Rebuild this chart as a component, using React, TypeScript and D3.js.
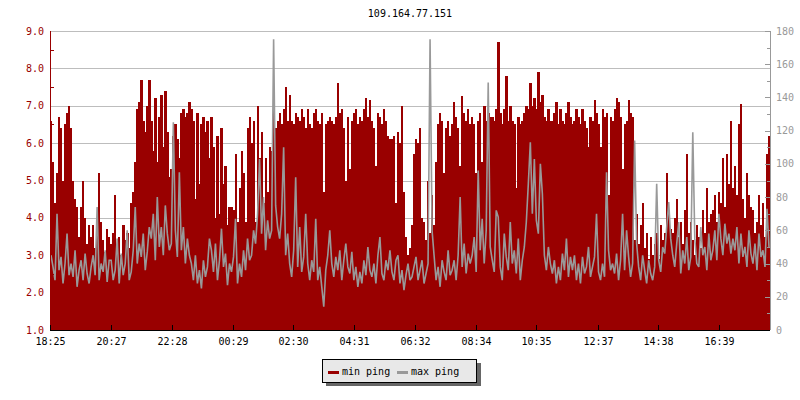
import React from "react";
import * as d3 from "d3";

const title = "109.164.77.151";
const tickLabels = ["18:25", "20:27", "22:28", "00:29", "02:30", "04:31", "06:32", "08:34", "10:35", "12:37", "14:38", "16:39"];
const leftTicks = [1, 2, 3, 4, 5, 6, 7, 8, 9];
const rightTicks = [0, 20, 40, 60, 80, 100, 120, 140, 160, 180];
const sampleMinutes = 4;

// min ping, one value every 4 minutes (left axis)
const minPing = [
  6.6, 5.5, 4.4, 5.2, 6.7, 6.4, 5.0, 6.5, 6.8, 7.0,
  6.4, 5.0, 4.5, 4.3, 3.5, 4.3, 5.0, 4.0, 3.3, 3.8,
  3.5, 3.8, 3.2, 3.6, 5.2, 3.9, 3.4, 3.1, 3.7, 3.5,
  3.3, 3.6, 4.6, 3.2, 3.5, 3.0, 3.8, 3.4, 3.6, 3.2,
  4.4, 4.7, 5.5, 6.9, 7.1, 7.7, 6.6, 6.3, 7.0, 7.7,
  6.6, 5.8, 7.2, 5.5, 6.7, 7.3, 5.9, 7.4, 6.3, 5.1,
  5.3, 6.2, 6.5, 6.1, 5.6, 6.8, 6.9, 6.7, 6.8, 7.1,
  6.9, 6.6, 4.5, 6.8, 4.9, 6.5, 6.7, 6.3, 6.6, 5.6,
  6.7, 5.9, 4.0, 6.2, 4.1, 6.4, 4.9, 5.4, 3.8, 4.3,
  4.3, 4.2, 5.7, 3.9, 4.8, 5.8, 5.2, 3.9, 6.4, 6.7,
  6.0, 6.6, 3.9, 7.0, 5.6, 6.3, 4.4, 5.6, 4.7, 5.9,
  5.8, 6.9, 6.4, 6.6, 6.8, 6.5, 6.9, 7.5, 6.6, 7.3,
  6.6, 6.5, 6.8, 6.7, 6.6, 6.9, 6.7, 6.4, 6.9, 6.5,
  6.4, 6.8, 6.9, 6.6, 6.5, 6.8, 4.7, 6.5, 6.6, 6.7,
  6.6, 6.5, 6.7, 7.6, 6.8, 6.9, 6.4, 5.0, 6.7, 5.3,
  6.6, 6.8, 6.9, 6.5, 6.7, 6.6, 6.9, 7.2, 6.7, 7.15,
  6.6, 6.4, 5.4, 6.8, 6.7, 6.5, 6.9, 6.6, 6.2, 6.1,
  6.1, 6.2, 4.4, 6.3, 6.0, 7.0, 4.7, 3.5, 3.0, 3.2,
  3.8, 5.7, 6.1, 6.0, 6.4, 4.0, 3.9, 3.4, 5.0, 3.6,
  4.6, 3.8, 5.5, 6.5, 6.8, 6.6, 5.2, 6.4, 6.6, 6.2,
  6.5, 7.1, 6.7, 6.4, 5.4, 7.25, 6.8, 6.6, 6.9, 6.5,
  6.7, 6.5, 5.2, 6.6, 6.8, 5.5, 7.0, 6.6, 6.8, 6.7,
  6.7, 6.6, 6.9, 8.7, 6.8, 6.5, 6.9, 7.8, 6.6, 7.0,
  6.6, 6.5, 4.8, 6.7, 6.5, 6.6, 6.8, 7.0, 6.9, 7.6,
  7.0, 7.2, 6.9, 7.9, 7.1, 7.3, 6.7, 6.6, 6.9, 6.6,
  6.6, 6.8, 7.1, 6.5, 6.9, 6.6, 6.5, 6.8, 7.1, 6.7,
  6.5, 6.6, 6.9, 6.7, 6.5, 6.9, 6.6, 6.4, 5.9, 6.7,
  6.6, 7.15, 6.8, 6.5, 5.9, 6.9, 6.7, 6.8, 4.6, 6.7,
  6.6, 6.9, 7.2, 7.1, 6.7, 5.3, 6.5, 6.6, 7.15, 6.8,
  6.7, 3.4, 4.1, 3.3, 3.8, 4.4, 3.2, 3.6, 2.9, 3.5,
  3.0, 3.3, 3.6, 2.9, 3.8, 3.4, 3.6, 5.2, 4.1, 3.7,
  3.6, 4.0, 4.5, 3.5, 3.9, 3.3, 4.2, 5.7, 3.6, 3.9,
  3.4, 3.0, 3.8, 3.5, 3.2, 4.2, 3.6, 4.8, 3.9, 4.1,
  4.2, 4.6, 3.9, 4.7, 4.4, 5.6, 4.3, 5.7, 4.9, 6.6,
  4.8, 5.4, 4.6, 6.5, 7.05, 4.5, 4.0, 5.2, 4.6, 4.3,
  4.2, 3.6, 3.9, 4.6, 3.8, 4.4, 3.5, 5.7, 6.2
];

// max ping, same samples (right axis)
const maxPing = [
  45, 38, 30, 70, 36, 44, 28, 40, 58, 33,
  40, 32, 48, 26, 36, 42, 30, 46, 34, 28,
  38, 45, 33, 74, 30, 40, 35, 48, 29, 42,
  42, 30, 36, 55, 28, 46, 33, 40, 60, 30,
  35, 48, 74, 40, 52, 44, 58, 36, 47, 62,
  55, 70, 42, 80, 50, 62, 45, 75, 58, 48,
  52, 125, 60, 44, 95, 48, 62, 40, 55, 45,
  40, 30, 45, 28, 36, 25, 42, 32, 38, 55,
  48, 35, 52, 30, 42, 61, 38, 46, 27, 40,
  35, 44, 67, 28, 40, 32, 48, 36, 55, 42,
  45, 60, 52, 70, 103, 58, 80, 48, 66, 55,
  60, 175, 75, 62, 55, 70, 110, 45, 58, 40,
  32, 48, 92, 38, 62, 35, 44, 70, 40, 30,
  42, 35, 67, 30, 38, 26, 14, 36, 45, 60,
  40, 32, 44, 36, 48, 30, 42, 52, 38, 34,
  47, 30, 38, 26, 35, 28, 42, 33, 50, 36,
  32, 40, 28, 45, 56, 34, 30, 42, 36, 48,
  35, 30, 42, 45, 28, 36, 24, 33, 40, 30,
  32, 38, 44, 30, 36, 42, 28, 34, 40, 175,
  60, 45, 30, 38, 26, 42, 35, 30, 48, 33,
  36, 42, 30, 45, 80, 38, 52, 34, 46, 40,
  45, 56, 35, 96, 48, 67, 40, 60, 149, 50,
  42, 35, 72, 68, 38, 30, 58, 44, 36, 65,
  40, 48, 34, 55, 30, 42, 50, 65, 88, 113,
  70, 103, 66, 58, 100, 82, 45, 36, 50, 40,
  34, 42, 28, 38, 30, 46, 36, 55, 32, 44,
  36, 45, 30, 40, 28, 44, 34, 38, 50, 32,
  38, 44, 70, 35, 30, 40, 32, 95, 48, 36,
  40, 34, 46, 30, 42, 70, 36, 60, 44, 32,
  40, 114, 52, 38, 30, 45, 36, 28, 42, 34,
  30, 38, 88, 42, 35, 50, 46, 62, 77, 55,
  45, 38, 52, 65, 34, 48, 40, 56, 36, 44,
  119, 55, 40, 38, 62, 45, 50, 36, 58, 42,
  48, 60, 42, 70, 55, 45, 64, 52, 58, 46,
  55, 48, 62, 40, 58, 44, 50, 38, 60, 46,
  40, 52, 36, 58, 44, 48, 38, 73, 50
];

const W = 800;
const H = 400;
const margin = { top: 31, right: 30, bottom: 70, left: 50 };
const x0 = margin.left;
const x1 = W - margin.right;
const y0 = H - margin.bottom;
const y1 = margin.top;

const RED = "#990000";
const GRAY = "#999999";
const GRID = "#bdbdbd";
const FONT = "DejaVu Sans Mono";

const start = new Date(2000, 0, 1, 18, 25);
const sampleTime = (i: number) => new Date(start.getTime() + i * sampleMinutes * 60000);

const labelTime = (s: string) => {
  const [h, m] = s.split(":").map(Number);
  const mins = (h * 60 + m - (18 * 60 + 25) + 1440) % 1440;
  return d3.timeMinute.offset(start, mins);
};

const App = () => {
  const x = d3
    .scaleTime()
    .domain([start, sampleTime(minPing.length)])
    .range([x0, x1]);
  const yLeft = d3.scaleLinear().domain([1, 9]).range([y0, y1]);
  const yRight = d3.scaleLinear().domain([0, 180]).range([y0, y1]);

  const maxLine = d3
    .line<number>()
    .x((_, i) => x(sampleTime(i + 0.5)))
    .y((d) => yRight(d));

  const leftMinor = d3.range(1.5, 9, 1);
  const rightMinor = d3.range(10, 180, 20);

  return (
    <svg width={W} height={H} style={{ position: "absolute", left: 0, top: 0, background: "#fff" }}>
      <text x={(x0 + x1) / 2} y={17} textAnchor="middle" fontFamily={FONT} fontSize={10} fill="#000">
        {title}
      </text>

      {/* grid */}
      <g shapeRendering="crispEdges">
        {leftTicks.slice(1).map((v) => (
          <line key={v} x1={x0} x2={x1} y1={Math.round(yLeft(v)) + 0.5} y2={Math.round(yLeft(v)) + 0.5} stroke={GRID} />
        ))}
      </g>

      {/* min ping bars */}
      <g shapeRendering="crispEdges" fill={RED}>
        {minPing.map((v, i) => {
          const a = x(sampleTime(i));
          const b = x(sampleTime(i + 1));
          return <rect key={i} x={a} width={b - a + 0.3} y={yLeft(v)} height={y0 - yLeft(v)} />;
        })}
      </g>

      {/* max ping line */}
      <path d={maxLine(maxPing) || ""} fill="none" stroke={GRAY} strokeWidth={1.6} strokeLinejoin="miter" strokeMiterlimit={2} />

      {/* left axis */}
      <g shapeRendering="crispEdges">
        <line x1={x0 + 0.5} x2={x0 + 0.5} y1={y1} y2={y0} stroke={RED} />
        {leftMinor.map((v) => (
          <line key={v} x1={x0} x2={x0 + 4} y1={Math.round(yLeft(v)) + 0.5} y2={Math.round(yLeft(v)) + 0.5} stroke={RED} />
        ))}
        {leftTicks.map((v) => (
          <text key={v} x={x0 - 6} y={yLeft(v)} dy="0.35em" textAnchor="end" fontFamily={FONT} fontSize={10} fill={RED}>
            {d3.format(".1f")(v)}
          </text>
        ))}
      </g>

      {/* right axis */}
      <g shapeRendering="crispEdges">
        <line x1={x1 + 0.5} x2={x1 + 0.5} y1={y1} y2={y0} stroke={GRAY} />
        {rightTicks.map((v) => (
          <line key={v} x1={x1 - 5} x2={x1} y1={Math.round(yRight(v)) + 0.5} y2={Math.round(yRight(v)) + 0.5} stroke={GRAY} />
        ))}
        {rightMinor.map((v) => (
          <line key={v} x1={x1 - 3} x2={x1} y1={Math.round(yRight(v)) + 0.5} y2={Math.round(yRight(v)) + 0.5} stroke={GRAY} />
        ))}
        {rightTicks.map((v) => (
          <text key={v} x={x1 + 6} y={yRight(v)} dy="0.35em" fontFamily={FONT} fontSize={10} fill={GRAY}>
            {v}
          </text>
        ))}
      </g>

      {/* bottom axis */}
      <g shapeRendering="crispEdges">
        <line x1={x0} x2={x1} y1={y0 + 0.5} y2={y0 + 0.5} stroke="#000" />
        {tickLabels.map((s) => {
          const px = Math.round(x(labelTime(s))) + 0.5;
          return (
            <g key={s}>
              <line x1={px} x2={px} y1={y0 - 5} y2={y0} stroke="#000" />
              <text x={px} y={y0 + 15} textAnchor="middle" fontFamily={FONT} fontSize={10} fill="#000">
                {s}
              </text>
            </g>
          );
        })}
      </g>

      {/* legend */}
      <g shapeRendering="crispEdges">
        <rect x={326} y={363} width={155} height={23} fill="#666" />
        <rect x={322.5} y={359.5} width={154} height={23} fill="#e8e8e8" stroke="#000" />
        <rect x={328} y={371} width={11} height={3} fill={RED} />
        <text x={342} y={375} fontFamily={FONT} fontSize={10} fill="#000">min ping</text>
        <rect x={397} y={371} width={11} height={3} fill={GRAY} />
        <text x={411} y={375} fontFamily={FONT} fontSize={10} fill="#000">max ping</text>
      </g>
    </svg>
  );
};

export default App;
